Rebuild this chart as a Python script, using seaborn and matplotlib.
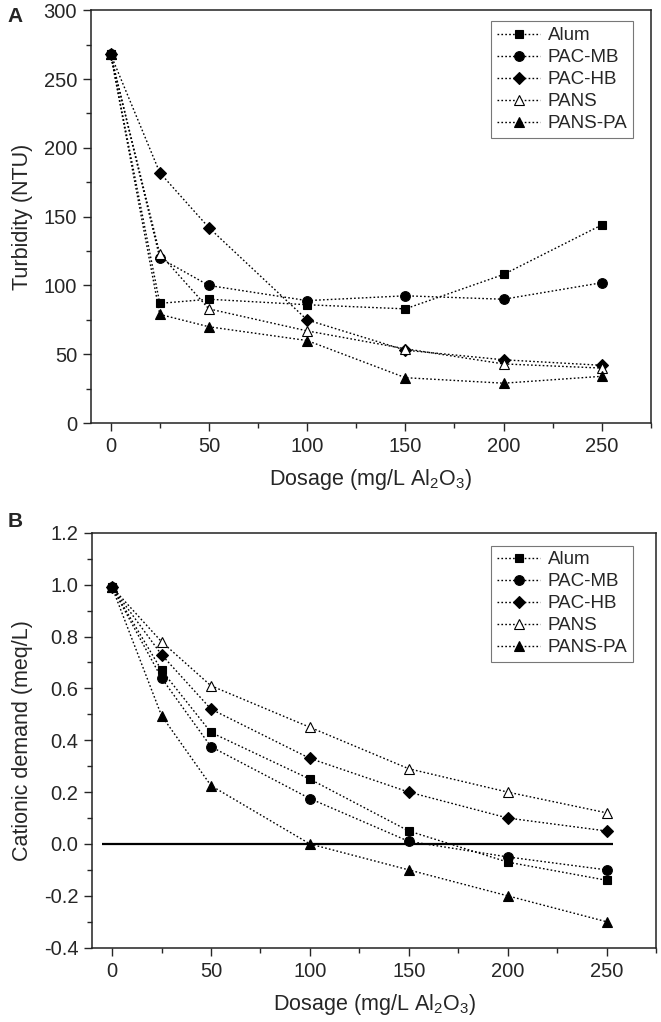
import pandas as pd
import seaborn as sns
import matplotlib.pyplot as plt

dosage = [0, 25, 50, 100, 150, 200, 250]
names = ["Alum", "PAC-MB", "PAC-HB", "PANS", "PANS-PA"]

turb_alum = [268, 87, 90, 86, 83, 108, 144]
turb_pacmb = [268, 120, 100, 89, 92.5, 90, 102]
turb_pachb = [268, 182, 142, 75, 53, 46, 42]
turb_pans = [268, 123, 83, 67, 54, 43, 40]
turb_panspa = [268, 79, 70, 60, 33, 29, 34]

cat_alum = [0.99, 0.67, 0.43, 0.25, 0.05, -0.07, -0.14]
cat_pacmb = [0.99, 0.64, 0.375, 0.175, 0.01, -0.05, -0.10]
cat_pachb = [0.99, 0.73, 0.52, 0.33, 0.20, 0.10, 0.05]
cat_pans = [0.99, 0.78, 0.61, 0.45, 0.29, 0.20, 0.12]
cat_panspa = [0.99, 0.495, 0.225, 0.0, -0.10, -0.20, -0.30]

turb = [turb_alum, turb_pacmb, turb_pachb, turb_pans, turb_panspa]
cat = [cat_alum, cat_pacmb, cat_pachb, cat_pans, cat_panspa]

# marker, size, face colour for each series
styles = {
    "Alum": ("s", 6.3, "black"),
    "PAC-MB": ("o", 7, "black"),
    "PAC-HB": ("D", 6.5, "black"),
    "PANS": ("^", 7.8, "white"),
    "PANS-PA": ("^", 7.8, "black"),
}

sns.set_style("ticks")
plt.rcParams["font.family"] = ["Liberation Sans", "DejaVu Sans"]
plt.rcParams["mathtext.fontset"] = "custom"
plt.rcParams["mathtext.rm"] = "Liberation Sans"
plt.rcParams["mathtext.default"] = "regular"


def long_df(values):
    rows = []
    for n, vals in zip(names, values):
        for d, v in zip(dosage, vals):
            rows.append({"dosage": d, "value": v, "series": n})
    return pd.DataFrame(rows)


def draw(ax, df):
    for n in names:
        m, ms, fc = styles[n]
        sub = df[df["series"] == n]
        sns.lineplot(data=sub, x="dosage", y="value", ax=ax, color="black",
                     linestyle=(0, (1.2, 1.6)), linewidth=1.0, marker=m,
                     markersize=ms, markerfacecolor=fc, markeredgecolor="black",
                     markeredgewidth=0.8, label=n)


def style_axes(ax, ylabel):
    for sp in ax.spines.values():
        sp.set_linewidth(1.1)
        sp.set_color("#222222")
    ax.tick_params(which="major", direction="out", length=6, width=1.0,
                   labelsize=14.5, pad=4, top=False, right=False)
    ax.tick_params(which="minor", direction="out", length=3.5, width=1.0,
                   top=False, right=False)
    ax.set_xlim(-10, 274)
    ax.set_xticks([0, 50, 100, 150, 200, 250])
    ax.set_xticks([25, 75, 125, 175, 225, 275], minor=True)
    ax.set_xlabel("Dosage (mg/L Al$_2$O$_3$)", fontsize=15.5, labelpad=8)
    ax.set_ylabel(ylabel, fontsize=15.5, labelpad=8)


fig = plt.figure(figsize=(6.61, 10.22), dpi=100)
axA = fig.add_axes([0.1377, 0.586, 0.847, 0.404])
axB = fig.add_axes([0.1396, 0.0727, 0.853, 0.406])

draw(axA, long_df(turb))
style_axes(axA, "Turbidity (NTU)")
axA.set_ylim(0, 300)
axA.set_yticks(range(0, 301, 50))
axA.set_yticks(range(25, 300, 50), minor=True)

draw(axB, long_df(cat))
axB.hlines(0, -5, 253, color="black", linewidth=1.6, zorder=1)
style_axes(axB, "Cationic demand (meq/L)")
axB.set_ylim(-0.4, 1.2)
axB.set_yticks([-0.4, -0.2, 0.0, 0.2, 0.4, 0.6, 0.8, 1.0, 1.2])
axB.set_yticks([-0.3, -0.1, 0.1, 0.3, 0.5, 0.7, 0.9, 1.1], minor=True)
axB.set_yticklabels([f"{v:.1f}" for v in axB.get_yticks()])

for ax, anchor in [(axA, (0.968, 0.973)), (axB, (0.959, 0.969))]:
    leg = ax.legend(loc="upper right", bbox_to_anchor=anchor, borderaxespad=0,
                    fontsize=13.5, frameon=True, fancybox=False,
                    handlelength=2.3, labelspacing=0.26, borderpad=0.3,
                    handletextpad=0.4, edgecolor="#555555")
    leg.get_frame().set_linewidth(0.8)

fig.text(0.012, 0.993, "A", fontsize=15, fontweight="bold", va="top")
fig.text(0.012, 0.499, "B", fontsize=15, fontweight="bold", va="top")

fig.savefig("out.png", dpi=100)
